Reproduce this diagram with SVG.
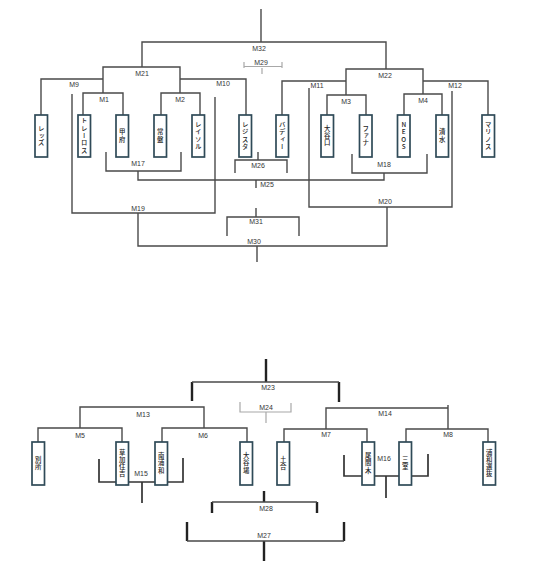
<svg xmlns="http://www.w3.org/2000/svg" width="545" height="561" viewBox="0 0 545 561">
<style>
.ln{fill:none;stroke:#4a4a4a;stroke-width:1.4}
.lt{fill:none;stroke:#a8a8a8;stroke-width:1.2}
.tk{fill:none;stroke:#222;stroke-width:2.4}
.br{fill:none;stroke:#333;stroke-width:1.7}
.box{fill:#fff;stroke:#2f4a58;stroke-width:1.7}
.lb{font-family:"Liberation Sans",Arial,sans-serif;font-size:7px;fill:#333;text-anchor:middle}
.nm{font-family:"Noto Sans CJK JP",sans-serif;font-size:6.4px;font-weight:500;fill:#222;writing-mode:vertical-rl;text-orientation:upright;text-anchor:middle;letter-spacing:0.9px}
.tx{opacity:0.99}
</style>
<rect width="545" height="561" fill="#fff"/>
<g id="connectors">
<path class="ln" d="M261 9V42M142 67V42H386V69M103 93V67H180V93M41 115V79H103M180 79H246V115M83 115V93H123V115M161 115V93H200V115M72 94V213H215V97M138 213V246H387V207M309 88V207H452V91M346 95V69H423V94M282 115V81H346M423 81H488V115M327 115V95H366V115M404 115V94H442V115"/>
<path class="ln" d="M106 152V171H181V152M138 171V180H384V173M352 154V173H427V154M235 173V160H287V173M258 152V160M256 180V188M227 236V217H299V236M256 208V217M257 246V262"/>
<path class="lt" d="M244 62V68M244 66.5H282M282 62V68M262 68V74"/>
<path class="tk" d="M266 359V382M192 382V401M339 382V402"/>
<path class="ln" d="M192 382H339"/>
<path class="lt" d="M240 402V412H291V403M266 412V423"/>
<path class="ln" d="M80 428V407H204V428M38 442V428H122V442M162 442V428H247V442M326 429V408H448V429M448 405V408M284 442V429H367V442M406 442V429H488V442"/>
<path class="br" d="M99 459V482H183V458M142 482V503M344 455V476H428V454M386 476V498"/>
<path class="tk" d="M264 491V502M212 502V513M317 502V513M187 522V541M344 522V541M264 541V561"/>
<path class="ln" d="M212 502H317M187 541H344"/>
</g>
<g id="labels" class="tx">
<text class="lb" x="259" y="50.5">M32</text>
<text class="lb" x="261" y="65">M29</text>
<text class="lb" x="142" y="75.5">M21</text>
<text class="lb" x="385" y="77.5">M22</text>
<text class="lb" x="74" y="86.5">M9</text>
<text class="lb" x="223" y="85.5">M10</text>
<text class="lb" x="317" y="87.5">M11</text>
<text class="lb" x="455" y="87.5">M12</text>
<text class="lb" x="104" y="101.5">M1</text>
<text class="lb" x="180" y="101.5">M2</text>
<text class="lb" x="346" y="103.5">M3</text>
<text class="lb" x="423" y="102.5">M4</text>
<text class="lb" x="138" y="165.5">M17</text>
<text class="lb" x="384" y="166.5">M18</text>
<text class="lb" x="258" y="167.5">M26</text>
<text class="lb" x="267" y="186.5">M25</text>
<text class="lb" x="385" y="203.5">M20</text>
<text class="lb" x="138" y="210.5">M19</text>
<text class="lb" x="256" y="223.5">M31</text>
<text class="lb" x="254" y="243.5">M30</text>
<text class="lb" x="268" y="389.5">M23</text>
<text class="lb" x="266" y="409.5">M24</text>
<text class="lb" x="143" y="416.5">M13</text>
<text class="lb" x="385" y="415.5">M14</text>
<text class="lb" x="80" y="437.5">M5</text>
<text class="lb" x="203" y="437.5">M6</text>
<text class="lb" x="326" y="436.5">M7</text>
<text class="lb" x="448" y="436.5">M8</text>
<text class="lb" x="141" y="475.5">M15</text>
<text class="lb" x="384" y="460.5">M16</text>
<text class="lb" x="266" y="510.5">M28</text>
<text class="lb" x="264" y="537.5">M27</text>
</g>
<g id="n-reds"><rect class="box" x="35" y="115" width="12.5" height="42"/><text class="nm tx" x="41.25" y="136">レッズ</text></g>
<g id="n-torelos"><rect class="box" x="78" y="115" width="12.5" height="42"/><text class="nm tx" x="84.25" y="136">トレーロス</text></g>
<g id="n-kofu"><rect class="box" x="116" y="115" width="12.5" height="42"/><text class="nm tx" x="122.25" y="136">甲府</text></g>
<g id="n-tokiwa"><rect class="box" x="154" y="115" width="12.5" height="42"/><text class="nm tx" x="160.25" y="136">常盤</text></g>
<g id="n-reysol"><rect class="box" x="192" y="115" width="12.5" height="42"/><text class="nm tx" x="198.25" y="136">レイソル</text></g>
<g id="n-regista"><rect class="box" x="239" y="115" width="12.5" height="42"/><text class="nm tx" x="245.25" y="136">レジスタ</text></g>
<g id="n-buddy"><rect class="box" x="276" y="115" width="12.5" height="42"/><text class="nm tx" x="282.25" y="136">バディー</text></g>
<g id="n-oyaguchi"><rect class="box" x="321" y="115" width="12.5" height="42"/><text class="nm tx" x="327.25" y="136">大谷口</text></g>
<g id="n-fana"><rect class="box" x="359.5" y="115" width="12.5" height="42"/><text class="nm tx" x="365.75" y="136">ファナ</text></g>
<g id="n-neos"><rect class="box" x="397.5" y="115" width="12.5" height="42"/><text class="nm tx" x="403.75" y="136">NEOS</text></g>
<g id="n-shimizu"><rect class="box" x="436" y="115" width="12.5" height="42"/><text class="nm tx" x="442.25" y="136">清水</text></g>
<g id="n-marinos"><rect class="box" x="482" y="115" width="12.5" height="42"/><text class="nm tx" x="488.25" y="136">マリノス</text></g>
<g id="n-bessho"><rect class="box" x="32" y="442" width="12.5" height="43"/><text class="nm tx" x="38.25" y="463.5">別所</text></g>
<g id="n-sokasumiyoshi"><rect class="box" x="116" y="442" width="12.5" height="43"/><text class="nm tx" x="122.25" y="463.5">草加住吉</text></g>
<g id="n-minamiurawa"><rect class="box" x="155" y="442" width="12.5" height="43"/><text class="nm tx" x="161.25" y="463.5">南浦和</text></g>
<g id="n-oyaba"><rect class="box" x="240" y="442" width="12.5" height="43"/><text class="nm tx" x="246.25" y="463.5">大谷場</text></g>
<g id="n-tsuchiai"><rect class="box" x="277" y="442" width="12.5" height="43"/><text class="nm tx" x="283.25" y="463.5">土合</text></g>
<g id="n-omagi"><rect class="box" x="362" y="442" width="12.5" height="43"/><text class="nm tx" x="368.25" y="463.5">尾間木</text></g>
<g id="n-mimuro"><rect class="box" x="399" y="442" width="12.5" height="43"/><text class="nm tx" x="405.25" y="463.5">三室</text></g>
<g id="n-urawasenbatsu"><rect class="box" x="483" y="442" width="12.5" height="43"/><text class="nm tx" x="489.25" y="463.5">浦和選抜</text></g>
</svg>
